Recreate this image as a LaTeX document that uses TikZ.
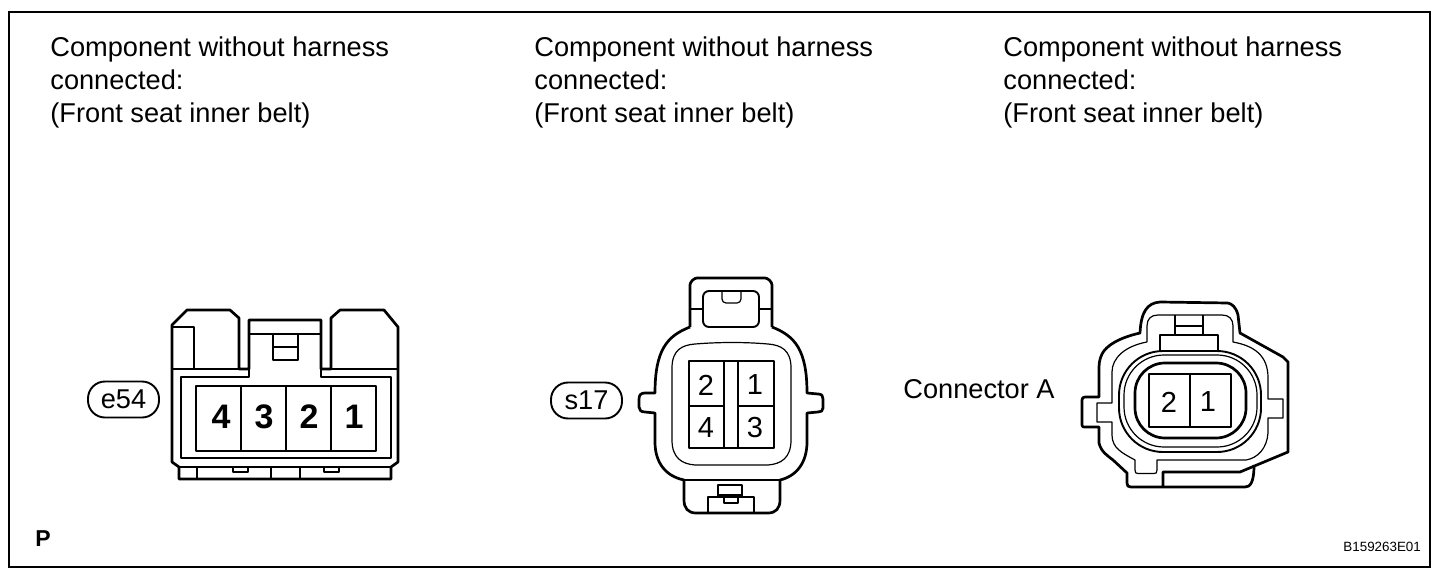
\documentclass[tikz,border=0pt]{standalone}
\usepackage{fontspec}
\setmainfont{Liberation Sans}
\tikzset{
  x=0.5pt,y=-0.5pt,
  thick line/.style={line width=1.35pt,line join=round,black},
  mid line/.style={line width=0.95pt,line join=round,black},
  thin line/.style={line width=0.6pt,line join=round,black},
  cap text/.style={anchor=base west,inner sep=0pt,align=left,font=\fontsize{13.6pt}{16.5pt}\selectfont},
  tag/.style={draw,line width=0.95pt,rounded corners=8.5pt,minimum width=35.5pt,minimum height=18pt,inner sep=0pt,font=\fontsize{13.6pt}{15pt}\selectfont},
  pin bold/.style={inner sep=0pt,font=\fontsize{17pt}{18pt}\bfseries\selectfont},
  pin reg/.style={inner sep=0pt,font=\fontsize{14.5pt}{16pt}\selectfont},
}
\begin{document}
\begin{tikzpicture}
\useasboundingbox (0,0) rectangle (1456,578);
\draw[line width=1.1pt] (9,12) rectangle (1430,567);
% captions
\foreach \nm/\xx in {a/50,b/534,c/1003}{
  \node[cap text] (cap\nm) at (\xx,56) {Component without harness};
  \node[cap text] (cap\nm2) at (\xx,89) {connected:};
  \node[cap text] (cap\nm3) at (\xx,122) {(Front seat inner belt)};
}
\node[tag] (e54) at (123.5,399.5) {e54};
\node[tag] (s17) at (586.5,400.5) {s17};
\node[cap text] (conA) at (903,398) {Connector A};
\node[anchor=base west,inner sep=0pt,font=\fontsize{11.5pt}{13pt}\bfseries\selectfont] (plabel) at (35,546) {P};
\node[anchor=base west,inner sep=0pt,font=\fontsize{6.7pt}{8pt}\selectfont] (code) at (1343,551) {B159263E01};

% ---------- connector 1
\draw[thick line] (172,325)--(187,310)--(230,310)--(239,318)--(239,369)--(249,369)--(249,320)--(321,320)--(321,369)--(331,369)--(331,318)--(340,310)--(384,310)--(398,327)--(398,462)--(391,467)--(391,479)--(179,479)--(179,467)--(172,462)--cycle;
\draw[mid line] (172,369)--(239,369) (331,369)--(398,369);
\draw[thin line] (249,369)--(249,377)--(181,377)--(181,458)--(391,458)--(391,377)--(321,377)--(321,369);
\draw[thin line] (173,327)--(194,327)--(194,369);
\draw[thin line] (250,334)--(321,334);
\draw[thin line] (273,334) rectangle (298,360) (273,347)--(298,347);
\draw[thin line] (179,467)--(391,467);
\draw[thin line] (197,467)--(197,479) (271,467)--(271,479) (300,467)--(300,479);
\draw[thin line] (233,467) rectangle (248,472) (324,467) rectangle (339,472);
\draw[thick line] (196,386) rectangle (376,451) (241,386)--(241,451) (286,386)--(286,451) (331,386)--(331,451);
\node[pin bold] (e4) at (221,417) {4};
\node[pin bold] (e3) at (264,417) {3};
\node[pin bold] (e2) at (309,417) {2};
\node[pin bold] (e1) at (354,417) {1};

% ---------- connector 2
\draw[thick line,rounded corners=2.5pt] (690,327)--(690,290)
  .. controls (690,282) and (694,278) .. (702,278)--(760,278)
  .. controls (768,278) and (772,282) .. (772,290)--(772,327);
\draw[thick line] (772,327) .. controls (795,336) and (807,350) .. (807,393)
  -- (818,394) .. controls (822,394) and (823,396) .. (823,399) -- (823,408)
  .. controls (823,411) and (821,412) .. (818,412) -- (807,413)
  -- (807,442) .. controls (807,462) and (797,476) .. (780,480)
  -- (780,500) .. controls (780,508) and (776,513) .. (768,513)
  -- (696,513) .. controls (688,513) and (684,508) .. (684,500)
  -- (684,480) .. controls (665,476) and (655,462) .. (655,442)
  -- (655,413) -- (645,412) .. controls (641,412) and (639,410) .. (639,407)
  -- (639,399) .. controls (639,395) and (641,393) .. (645,393) -- (655,393)
  .. controls (655,350) and (667,336) .. (690,327);
\draw[mid line] (684,480)--(780,480);
\draw[thin line] (672,368) .. controls (672,350) and (682,345) .. (695,344)
  .. controls (720,342) and (745,342) .. (768,344)
  .. controls (781,345) and (791,350) .. (791,368)
  -- (791,440) .. controls (791,458) and (781,464) .. (768,465)
  -- (695,465) .. controls (682,464) and (672,458) .. (672,440) -- cycle;
\draw[mid line] (689,361) rectangle (774,448);
\draw[thin line] (724,361)--(724,448);
\draw[mid line] (738,361)--(738,448) (689,406)--(724,406) (738,406)--(774,406);
\node[pin reg] (s2) at (706,385) {2};
\node[pin reg] (s1) at (755,385) {1};
\node[pin reg] (s4) at (706,428) {4};
\node[pin reg] (s3) at (755,428) {3};
\draw[mid line,rounded corners=3pt] (703,327)--(703,291)--(759,291)--(759,327)--cycle;
\draw[thin line,rounded corners=2pt] (722,291)--(722,303)--(741,303)--(741,291);
\draw[mid line] (690,309)--(703,309) (759,309)--(772,309);
\draw[mid line] (718,497)--(718,485)--(742,485)--(742,497);
\draw[thin line] (718,495)--(742,495);
\draw[thin line] (754,512)--(754,497)--(708,497)--(708,512);
\draw[mid line] (724,497)--(724,503)--(738,503)--(738,497);

% ---------- connector 3
\draw[thick line] (1228,303)--(1160,302) .. controls (1147,303) and (1141,312) .. (1140,333)
  .. controls (1118,338) and (1106,346) .. (1102,354)
  .. controls (1099,360) and (1099,365) .. (1099,370) -- (1099,397) -- (1085,397)
  .. controls (1083,397) and (1082,398) .. (1082,400) -- (1082,425)
  .. controls (1082,427) and (1083,427) .. (1085,427) -- (1099,427) -- (1099,443)
  .. controls (1101,452) and (1108,456) .. (1113,460)
  -- (1127,473) -- (1127,483) .. controls (1127,486) and (1128,487) .. (1131,487)
  -- (1245,487) .. controls (1250,487) and (1254,483) .. (1254,465);
\draw[thick line] (1163,487)--(1163,472)--(1240,472)--(1288,452)--(1288,362)--(1283,357)--(1240,333)--(1238,315)
  .. controls (1236,307) and (1232,304) .. (1228,303);
\draw[thin line] (1147,342)--(1147,326) .. controls (1147,319) and (1151,315) .. (1158,315)
  -- (1222,315) .. controls (1229,315) and (1233,319) .. (1233,326) -- (1233,342)
  .. controls (1255,346) and (1268,356) .. (1268,378) -- (1268,399) -- (1283,399) -- (1283,418) -- (1268,418)
  -- (1268,433) .. controls (1267,448) and (1258,458) .. (1246,460) -- (1157,460) -- (1157,470)
  .. controls (1157,473) and (1156,473.5) .. (1154,473.5) -- (1138,473.5) .. controls (1136,473.5) and (1135,473) .. (1135,470)
  -- (1135,460) .. controls (1122,453) and (1112,448) .. (1112,435) -- (1112,422) -- (1097,422) -- (1097,403) -- (1112,403)
  -- (1112,372) .. controls (1112,358) and (1125,346) .. (1147,342);
\draw[mid line,rounded corners=22pt] (1119,351) rectangle (1261,452);
\draw[thin line,rounded corners=20pt] (1124,355) rectangle (1257,447);
\draw[thick line,rounded corners=15pt] (1135,363) rectangle (1246,438);
\draw[mid line] (1160,350)--(1160,335)--(1218,335)--(1218,350);
\draw[mid line] (1175,335)--(1175,315) (1203,335)--(1203,315) (1175,326)--(1203,326);
\draw[mid line] (1149,374) rectangle (1231,427);
\draw[thin line] (1190,374)--(1190,427);
\node[pin reg] (c2) at (1169,402) {2};
\node[pin reg] (c1) at (1208,402) {1};
\end{tikzpicture}
\end{document}
